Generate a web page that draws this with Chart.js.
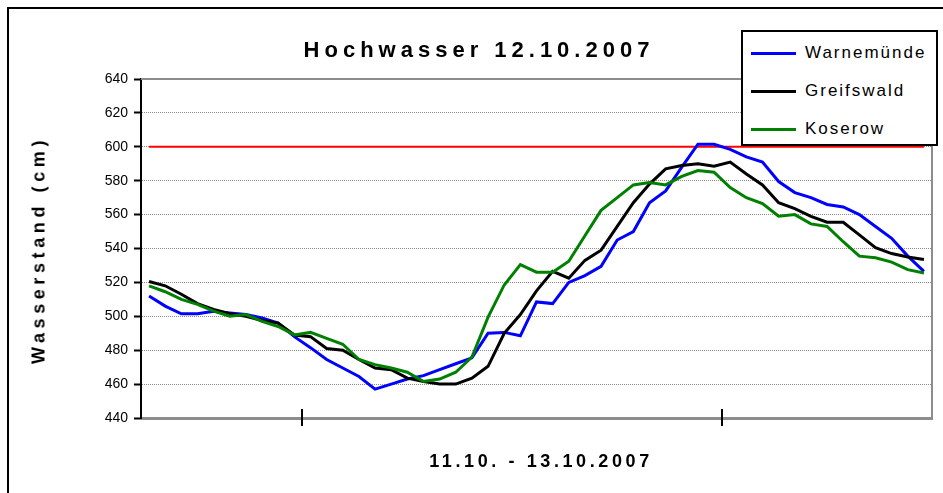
<!DOCTYPE html>
<html lang="de">
<head>
<meta charset="utf-8">
<title>Hochwasser 12.10.2007</title>
<script src="https://cdn.jsdelivr.net/npm/chart.js@4.4.1/dist/chart.umd.min.js"></script>
<style>
    html, body { margin: 0; padding: 0; background: #fff; }
    #wrap { position: relative; width: 943px; height: 493px; overflow: hidden; font-family: "Liberation Sans", Arial, sans-serif; }
    #frame { position: absolute; left: 7px; top: 7px; width: 934px; height: 520px; border: 2px solid #000; }
    #chart { position: absolute; left: 0; top: 0; }
    .txt { position: absolute; white-space: nowrap; color: #000; font-weight: bold; }
    #title { left: 479px; top: 37px; font-size: 22px; letter-spacing: 5px; transform: translateX(-50%); }
    #ytitle { left: 39px; top: 250px; font-size: 18px; letter-spacing: 4.6px; transform: translate(-50%, -50%) rotate(-90deg); }
    #xtitle { left: 541px; top: 451px; font-size: 18px; letter-spacing: 3.6px; transform: translateX(-50%); }
    #legend { position: absolute; left: 741px; top: 30px; width: 197px; height: 116px; border: 2px solid #000; background: #fff; box-sizing: border-box; }
    .item { position: absolute; left: 8px; height: 20px; font-size: 17px; letter-spacing: 2px; white-space: nowrap; }
    .item span.line { position: absolute; left: 0; top: 9px; width: 45px; height: 3px; }
    .item span.name { position: absolute; left: 54px; top: 0; }
</style>
</head>
<body>
<div id="wrap">
    <div id="frame"></div>
    <canvas id="chart" width="943" height="493"></canvas>
    <div class="txt" id="title">Hochwasser 12.10.2007</div>
    <div class="txt" id="ytitle">Wasserstand (cm)</div>
    <div class="txt" id="xtitle">11.10. - 13.10.2007</div>
    <div id="legend"></div>
</div>
<script>
// Wasserstand in cm, 49 Messungen vom 11.10. bis 13.10.2007
const warnemuende = [512, 506, 501.5, 501.5, 503, 502, 501, 499, 496, 488,
    481.5, 474.5, 469.5, 464.5, 457, 460, 463, 465, 468.5, 472,
    475.5, 490, 490.5, 488.5, 508.5, 507.5, 520, 524, 529.5, 545,
    550, 567, 574, 588, 601.5, 601.5, 598.5, 594, 591, 579.5,
    573, 570, 566, 564.5, 560, 553, 546, 535.5, 526.5];
const greifswald = [520.5, 518, 513, 507.5, 504, 501.5, 500, 497.5, 496, 489,
    488, 481, 480, 474.5, 469.5, 468.5, 463.5, 461.5, 460, 460,
    463.5, 470.5, 490, 501, 515, 526.5, 522.5, 533, 539, 553,
    567, 578, 587, 589, 590, 588.5, 591, 584, 577.5, 567,
    563.5, 559, 555.5, 555.5, 548, 540.5, 537, 535, 533.5];
const koserow = [518, 514.5, 510, 507, 503, 500, 501, 497, 494, 489,
    490.5, 487, 483.5, 474.5, 471.5, 469.5, 467, 461.5, 463, 467,
    476, 499.5, 518.5, 530.5, 526, 526, 532.5, 547.5, 562.5, 570,
    577.5, 579, 577.5, 582.5, 586, 585, 576, 570, 566.5, 559,
    560, 554.5, 553, 544, 535.5, 534.5, 532, 527.5, 525.5];
const messungen = warnemuende.map((v, i) => String(i + 1));
const yTicks = [440, 460, 480, 500, 520, 540, 560, 580, 600, 620, 640];
const warnLevel = 600;
// Tagesgrenzen liegen zwischen zwei Messungen
const dayTicks = [10, 36];

const series = [
    { label: "Warnemünde", data: warnemuende, color: "#0000ff" },
    { label: "Greifswald", data: greifswald, color: "#000000" },
    { label: "Koserow", data: koserow, color: "#008000" }
];

// legend box like the excel one
const legend = document.getElementById("legend");
series.forEach((s, i) => {
    const row = document.createElement("div");
    row.className = "item";
    row.style.top = (11 + i * 38) + "px";
    row.innerHTML = `<span class="line" style="background:${s.color}"></span><span class="name">${s.label}</span>`;
    legend.appendChild(row);
});

const plotFrame = {
    id: "plotFrame",
    beforeDatasetsDraw(chart) {
        const { ctx, chartArea: a } = chart;
        ctx.save();
        ctx.strokeStyle = "#8c8c8c";
        ctx.lineWidth = 2;
        ctx.beginPath();
        ctx.moveTo(a.left, a.top);
        ctx.lineTo(a.right, a.top);
        ctx.lineTo(a.right, a.bottom);
        ctx.stroke();
        ctx.restore();
    },
    afterDraw(chart) {
        const { ctx, chartArea: a, scales: { x } } = chart;
        ctx.save();
        ctx.strokeStyle = "#000";
        ctx.lineWidth = 2;
        dayTicks.forEach(i => {
            const px = Math.round((x.getPixelForValue(i - 1) + x.getPixelForValue(i)) / 2);
            ctx.beginPath();
            ctx.moveTo(px, a.bottom - 9);
            ctx.lineTo(px, a.bottom + 8);
            ctx.stroke();
        });
        ctx.restore();
    }
};

new Chart(document.getElementById("chart"), {
    type: "line",
    data: {
        labels: messungen,
        datasets: [
            ...series.map((s, i) => ({
                label: s.label,
                data: s.data,
                borderColor: s.color,
                backgroundColor: s.color,
                borderWidth: 3,
                pointRadius: 0,
                tension: 0,
                order: 2 - i
            })),
            {
                label: "Warnstufe",
                data: [{ x: messungen[0], y: warnLevel }, { x: messungen[messungen.length - 1], y: warnLevel }],
                borderColor: "#ff0000",
                borderWidth: 2,
                pointRadius: 0,
                order: 3
            }
        ]
    },
    options: {
        responsive: false,
        animation: false,
        devicePixelRatio: 1,
        layout: { padding: { top: 79, right: 11, bottom: 0, left: 0 } },
        plugins: {
            legend: { display: false },
            title: { display: false },
            tooltip: { enabled: false }
        },
        scales: {
            x: {
                type: "category",
                offset: true,
                ticks: { display: false },
                grid: { display: false },
                border: { display: true, color: "#8c8c8c", width: 3 },
                afterFit: s => { s.height = 75; }
            },
            y: {
                min: 440,
                max: 640,
                afterBuildTicks: s => { s.ticks = yTicks.map(v => ({ value: v })); },
                ticks: {
                    color: "#000",
                    padding: 6,
                    font: { family: "Liberation Sans", size: 14 }
                },
                grid: {
                    color: "#8c8c8c",
                    lineWidth: 1,
                    tickColor: "#000",
                    tickLength: 7,
                    tickWidth: 2
                },
                border: { display: true, color: "#000", width: 2, dash: [1, 1] },
                afterFit: s => { s.width = 141; }
            }
        }
    },
    plugins: [plotFrame]
});
</script>
</body>
</html>
